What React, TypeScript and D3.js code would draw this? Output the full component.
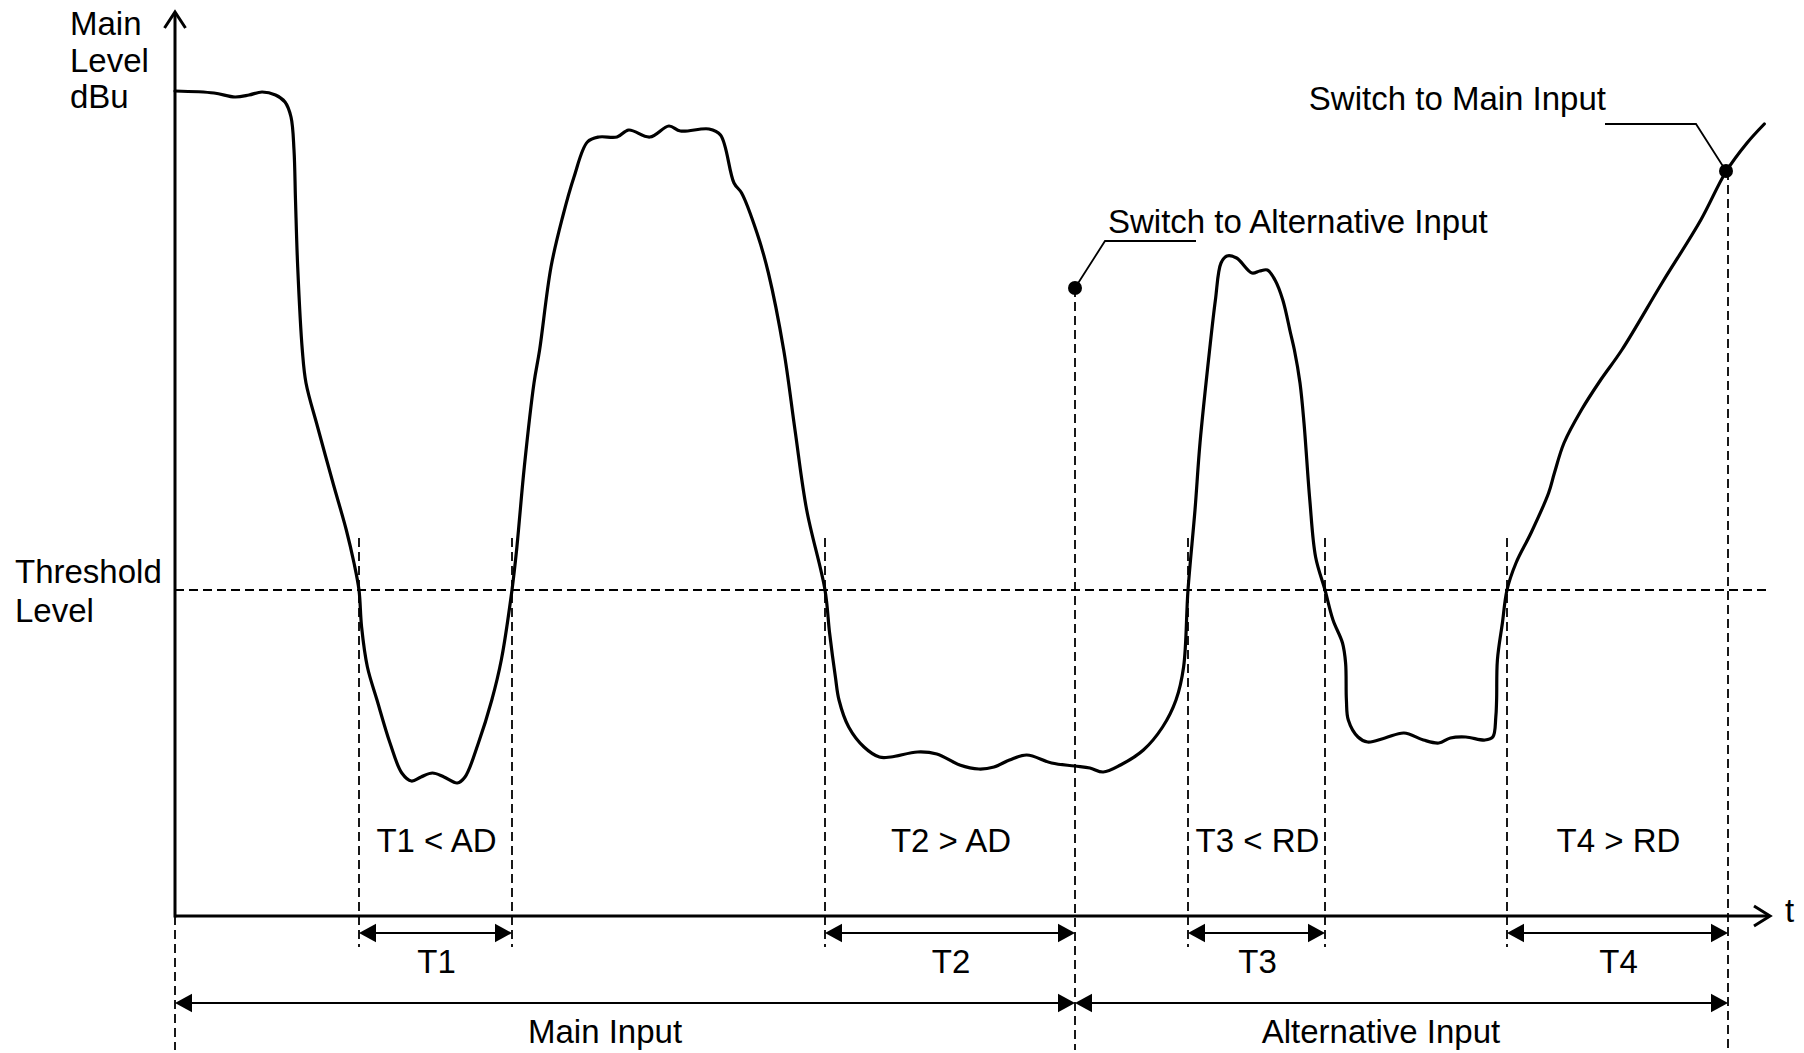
import React from "react";
import * as d3 from "d3";

// ---- Data (time in arbitrary units, level in arbitrary dBu units) ----
const curveTime = [
  0, 3.9, 6.0, 7.4, 8.7, 10.05, 11.0, 11.6, 11.9, 12.05, 12.27, 12.73, 13.1, 14.26, 15.8, 17.13, 17.9, 18.4,
  18.66, 19.24, 20.2, 21.5, 22.68, 23.64, 24.6, 25.74, 26.9, 28.23, 29.0, 30.34, 31.68, 32.63, 33.7,
  34.16, 34.93, 35.9, 36.46, 37.6, 38.76, 39.9, 41.24, 42.4, 44.2, 45.37, 47.48, 49.39, 50.54, 53.4,
  54.55, 55.9, 56.66, 58.2, 59.34, 60.87, 62.0, 63.17, 65.0, 65.46, 66.04, 66.4, 67.37, 68.9, 70.44,
  71.58, 74.26, 76.18, 78.47, 80.39, 81.9, 83.45, 85.17, 87.66, 89.96, 91.49, 92.82, 94.55, 96.84,
  98.76, 100.1, 100.86, 101.3, 102.0, 102.5, 103.46, 104.04, 104.6, 105.2, 106.16, 107.7, 108.47,
  109.24, 110.0, 110.78, 111.55, 111.94, 112.5, 112.9, 113.48, 114.06, 115.0, 115.8, 116.75, 117.06,
  117.14, 117.33, 118.3, 119.26, 121.0, 122.9, 124.84, 126.38, 127.54, 129.08, 131.0, 131.78, 132.08,
  132.16, 132.24, 132.74, 133.2, 134.1, 135.6, 137.36, 137.94, 138.9, 140.64, 142.56, 144.68, 148.7,
  152.58, 155.08, 157.2, 158.93,
];
const curveLevel = [
  82.5, 82.3, 81.9, 82.1, 82.4, 82.1, 81.4, 79.9, 76.6, 71.6, 64.9, 56.6, 53.3, 48.9, 43.3, 38.6, 35.3, 32.6,
  28.9, 24.9, 21.6, 17.3, 14.3, 13.5, 13.9, 14.3, 13.9, 13.3, 13.9, 17.3, 21.6, 25.6, 32.6,
  36.6, 44.9, 53.3, 56.6, 64.9, 69.9, 73.9, 77.4, 77.9, 77.9, 78.6, 77.9, 79.0, 78.5, 78.7,
  78.1, 73.3, 72.3, 68.3, 64.3, 56.6, 48.6, 40.6, 32.6, 28.3, 23.9, 21.6, 18.9, 16.9, 15.9,
  15.9, 16.4, 16.2, 15.1, 14.7, 14.9, 15.6, 16.1, 15.3, 15.0, 14.8, 14.4, 15.1, 16.6,
  18.9, 21.6, 24.9, 32.6, 40.6, 47.3, 56.6, 61.6, 65.3, 66.0, 65.8, 64.3, 64.5,
  64.6, 63.6, 61.6, 58.3, 56.6, 53.3, 49.3, 41.6, 35.9, 32.6, 29.6, 27.3, 25.3,
  21.6, 19.6, 17.9, 17.4, 17.8, 18.3, 17.6, 17.3, 17.8, 17.9, 17.6, 17.9, 19.9,
  21.6, 25.6, 29.3, 32.6, 35.3, 38.3, 42.3, 44.3, 47.3, 50.6, 53.6, 56.6, 63.3,
  69.6, 74.4, 77.3, 79.2,
];

const thresholdLevel = 32.6;

const periodNames = ["T1", "T2", "T3", "T4"];
const conditionLabels = ["T1 < AD", "T2 > AD", "T3 < RD", "T4 > RD"];
const periodStart = [18.4, 65.0, 101.3, 133.2];
const periodEnd = [33.7, 90.0, 115.0, 155.3];

const inputNames = ["Main Input", "Alternative Input"];
const inputStart = [0, 90.0];
const inputEnd = [90.0, 155.3];
const inputLabelTime = [43.0, 120.6];

const switchLabels = ["Switch to Alternative Input", "Switch to Main Input"];
const switchTime = [90.0, 155.1];
const switchLevel = [62.8, 74.5];

const yAxisLabel = ["Main", "Level", "dBu"];
const thresholdLabel = ["Threshold", "Level"];
const xAxisLabel = "t";

// ---- Layout ----
const W = 1804;
const H = 1053;
const FONT = "'Liberation Sans', Arial, Helvetica, sans-serif";
const FS = 33;

export default function App() {
  const x = d3.scaleLinear().domain([0, 159.5]).range([175, 1770]);
  const y = d3.scaleLinear().domain([0, 90.4]).range([916, 12]);

  const pts: [number, number][] = curveTime.map((t, i) => [t, curveLevel[i]]);
  const line = d3
    .line<[number, number]>()
    .x((d) => x(d[0]))
    .y((d) => y(d[1]))
    .curve(d3.curveCatmullRom.alpha(0.5));

  const x0 = x(0);
  const y0 = y(0);
  const xEnd = x(159.5);
  const yTop = y(90.4);

  const dashTop = 538;
  const dashBottom = 947;
  const longDashBottom = 1050;
  const dimY = 933;
  const inputY = 1003;
  const condLabelY = 852;
  const periodLabelY = 973;
  const inputLabelY = 1043;

  const arrowL = 17;
  const arrowH = 9.3;
  const headLeft = (xt: number, yy: number) =>
    `M${xt},${yy} L${xt + arrowL},${yy - arrowH} L${xt + arrowL},${yy + arrowH} Z`;
  const headRight = (xt: number, yy: number) =>
    `M${xt},${yy} L${xt - arrowL},${yy - arrowH} L${xt - arrowL},${yy + arrowH} Z`;

  const dims = (a: number, b: number, yy: number, key: string, sw = 2) => (
    <g key={key}>
      <line x1={a + arrowL - 1} x2={b - arrowL + 1} y1={yy} y2={yy} stroke="#000" strokeWidth={sw} />
      <path d={headLeft(a, yy)} fill="#000" />
      <path d={headRight(b, yy)} fill="#000" />
    </g>
  );

  const dash = "9 5";

  return (
    <svg
      width={W}
      height={H}
      viewBox={`0 0 ${W} ${H}`}
      style={{ position: "absolute", left: 0, top: 0, background: "#fff" }}
      fontFamily={FONT}
      fontSize={FS}
    >
      <rect x={0} y={0} width={W} height={H} fill="#fff" />

      {/* threshold line */}
      <line
        x1={x0}
        x2={1769}
        y1={y(thresholdLevel)}
        y2={y(thresholdLevel)}
        stroke="#000"
        strokeWidth={2}
        strokeDasharray={dash}
      />

      {/* short dashed period boundaries */}
      {periodStart.map((t, i) => (
        <line key={"ps" + i} x1={x(t)} x2={x(t)} y1={dashTop} y2={dashBottom} stroke="#000" strokeWidth={1.8} strokeDasharray={dash} />
      ))}
      {periodEnd.map((t, i) =>
        i === 0 || i === 2 ? (
          <line key={"pe" + i} x1={x(t)} x2={x(t)} y1={dashTop} y2={dashBottom} stroke="#000" strokeWidth={1.8} strokeDasharray={dash} />
        ) : null
      )}

      {/* long dashed lines from switch points */}
      {switchTime.map((t, i) => (
        <line
          key={"ld" + i}
          x1={x(i === 0 ? periodEnd[1] : periodEnd[3])}
          x2={x(i === 0 ? periodEnd[1] : periodEnd[3])}
          y1={y(switchLevel[i])}
          y2={longDashBottom}
          stroke="#000"
          strokeWidth={1.8}
          strokeDasharray={dash}
        />
      ))}
      <line x1={x0} x2={x0} y1={y0} y2={longDashBottom} stroke="#000" strokeWidth={1.8} strokeDasharray={dash} />

      {/* axes */}
      <line x1={x0} x2={x0} y1={y0 + 1.5} y2={yTop + 1} stroke="#000" strokeWidth={3} />
      <path d={`M${x0 - 10.5},${yTop + 16} L${x0},${yTop} L${x0 + 10.5},${yTop + 16}`} fill="none" stroke="#000" strokeWidth={3} />
      <line x1={x0} x2={xEnd - 1} y1={y0} y2={y0} stroke="#000" strokeWidth={3} />
      <path d={`M${xEnd - 16},${y0 - 10} L${xEnd},${y0} L${xEnd - 16},${y0 + 10}`} fill="none" stroke="#000" strokeWidth={3} />

      {/* signal curve */}
      <path d={line(pts) || ""} fill="none" stroke="#000" strokeWidth={3.2} strokeLinejoin="round" strokeLinecap="round" />

      {/* switch markers */}
      {switchTime.map((t, i) => {
        const cx = x(t);
        const cy = y(switchLevel[i]);
        const dir = i === 0 ? 1 : -1;
        const kx = cx + dir * 30;
        const ky = cy - 47;
        const ex = kx + dir * 91;
        return (
          <g key={"sw" + i}>
            <polyline points={`${cx},${cy} ${kx},${ky} ${ex},${ky}`} fill="none" stroke="#000" strokeWidth={1.8} />
            <circle cx={cx} cy={cy} r={7} fill="#000" />
            <text x={i === 0 ? kx + 3 : ex + 1} y={i === 0 ? ky - 8 : ky - 14} textAnchor={i === 0 ? "start" : "end"}>
              {switchLabels[i]}
            </text>
          </g>
        );
      })}

      {/* condition labels */}
      {conditionLabels.map((lab, i) => (
        <text key={"cl" + i} x={(x(periodStart[i]) + x(periodEnd[i])) / 2 + 1} y={condLabelY} textAnchor="middle">
          {lab}
        </text>
      ))}

      {/* period dimension arrows */}
      {periodNames.map((n, i) => dims(x(periodStart[i]), x(periodEnd[i]), dimY, "pd" + i))}
      {periodNames.map((n, i) => (
        <text key={"pn" + i} x={(x(periodStart[i]) + x(periodEnd[i])) / 2 + 1} y={periodLabelY} textAnchor="middle">
          {n}
        </text>
      ))}

      {/* input dimension arrows */}
      {inputNames.map((n, i) => dims(x(inputStart[i]), x(inputEnd[i]), inputY, "id" + i))}
      {inputNames.map((n, i) => (
        <text key={"in" + i} x={x(inputLabelTime[i])} y={inputLabelY} textAnchor="middle">
          {n}
        </text>
      ))}

      {/* axis labels */}
      {yAxisLabel.map((s, i) => (
        <text key={"ya" + i} x={70} y={35 + i * 36.6}>
          {s}
        </text>
      ))}
      {thresholdLabel.map((s, i) => (
        <text key={"th" + i} x={15} y={583 + i * 38.5}>
          {s}
        </text>
      ))}
      <text x={1785} y={922}>
        {xAxisLabel}
      </text>
    </svg>
  );
}
